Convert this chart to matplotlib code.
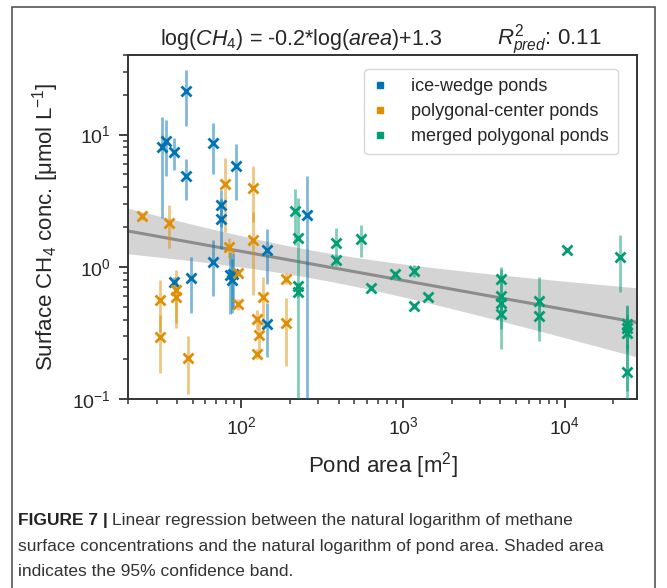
import numpy as np
import matplotlib
matplotlib.use("Agg")
import matplotlib.pyplot as plt
from matplotlib.lines import Line2D
from matplotlib.patches import Rectangle

plt.rcParams['font.family'] = ['Liberation Sans', 'DejaVu Sans']
plt.rcParams['mathtext.fontset'] = 'custom'
plt.rcParams['mathtext.rm'] = 'Liberation Sans'
plt.rcParams['mathtext.it'] = 'Liberation Sans:italic'
plt.rcParams['mathtext.bf'] = 'Liberation Sans:bold'

# pond area [m2], surface CH4 [umol/L], standard deviation
ice_area = [45.2, 32.1, 34.3, 38.6, 45.2, 67, 92.2, 74.5, 74.5, 38.5, 48.8, 67, 85, 89, 87, 144, 144, 254]
ice_ch4 = [21.2, 8.0, 8.9, 7.45, 4.9, 8.6, 5.84, 2.92, 2.32, 0.77, 0.82, 1.10, 0.87, 0.88, 0.80, 1.35, 0.37, 2.49]
ice_sd = [9.6, 5.65, 4.0, 2.0, 1.7, 3.6, 2.66, 0.9, 0.95, 0.07, 0.37, 0.5, 0.43, 0.4, 0.35, 0.6, 0.16, 2.4]

poly_area = [24.2, 35.8, 39.7, 39.7, 31.3, 31.3, 46.5, 78.8, 84.4, 94.8, 94.8, 118.7, 118.7, 135.5, 125, 129, 125, 189, 189]
poly_ch4 = [2.42, 2.16, 0.667, 0.594, 0.561, 0.297, 0.204, 4.25, 1.42, 0.908, 0.523, 3.97, 1.61, 0.588, 0.404, 0.305, 0.22, 0.818, 0.378]
poly_sd = [0.15, 0.76, 0.29, 0.25, 0.24, 0.14, 0.095, 2.4, 0.25, 0.06, 0.05, 1.8, 1.0, 0.25, 0.07, 0.08, 0.02, 0.08, 0.2]

merged_area = [215, 223, 223, 223, 386, 386, 547, 630, 897, 1170, 1170, 1430, 4020, 4020, 4020, 4020,
               6970, 6970, 10300, 22000, 24300, 24300, 24300, 24300]
merged_ch4 = [2.67, 1.67, 0.716, 0.648, 1.53, 1.12, 1.62, 0.695, 0.88, 0.933, 0.508, 0.594, 0.818, 0.60, 0.53, 0.438,
              0.554, 0.427, 1.35, 1.19, 0.368, 0.343, 0.315, 0.16]
merged_sd = [1.2, 1.63, 0.05, 0.05, 0.45, 0.1, 0.44, 0.03, 0.06, 0.1, 0.03, 0.03, 0.18, 0.36, 0.1, 0.1,
             0.28, 0.1, 0.05, 0.54, 0.14, 0.1, 0.2, 0.1]

groups = [
    ("ice-wedge ponds", ice_area, ice_ch4, ice_sd, '#0173b2'),
    ("polygonal-center ponds", poly_area, poly_ch4, poly_sd, '#de8f05'),
    ("merged polygonal ponds", merged_area, merged_ch4, merged_sd, '#029e73'),
]

fig = plt.figure(figsize=(6.67, 5.88), dpi=100)
ax = fig.add_axes([0.1924, 0.3209, 0.7626, 0.5856])

# regression in log space with 95% confidence band
lx = np.log(np.concatenate([ice_area, poly_area, merged_area]))
ly = np.log(np.concatenate([ice_ch4, poly_ch4, merged_ch4]))
n = len(lx)
slope, icpt = np.polyfit(lx, ly, 1)
resid = ly - (slope * lx + icpt)
s = np.sqrt(np.sum(resid ** 2) / (n - 2))
sxx = np.sum((lx - lx.mean()) ** 2)
gx = np.linspace(np.log(20), np.log(28000), 200)
gy = slope * gx + icpt
half = 1.99 * s * np.sqrt(1.0 / n + (gx - lx.mean()) ** 2 / sxx)

ax.fill_between(np.exp(gx), np.exp(gy - half), np.exp(gy + half), color='#d4d4d4', lw=0, zorder=1)
ax.plot(np.exp(gx), np.exp(gy), color='#8c8c8c', lw=2.2, zorder=2)

for name, a, c, sd, col in groups:
    ax.errorbar(a, c, yerr=sd, fmt='none', ecolor=col, alpha=0.5, elinewidth=2, zorder=3)
    ax.plot(a, c, 'x', color=col, ms=7.5, mew=2, zorder=4)

ax.set_xscale('log')
ax.set_yscale('log')
ax.set_xlim(20, 28000)
ax.set_ylim(0.1, 40)

for sp in ax.spines.values():
    sp.set_color('#333333')
    sp.set_linewidth(1.4)
ax.tick_params(which='major', length=6.5, width=1.3, pad=6, color='#333333', labelsize=14, labelcolor='#262626')
ax.tick_params(which='minor', length=3.5, width=1.1, color='#333333')

ax.set_xlabel(r'Pond area [m$^2$]', fontsize=16, color='#262626', labelpad=8)
ax.set_ylabel(r'Surface CH$_4$ conc. [$\mathrm{\mu}$mol L$^{-1}$]', fontsize=16, color='#262626', labelpad=8)
ax.text(0.062, 1.03, r'log($CH_4$) = -0.2*log($area$)+1.3', transform=ax.transAxes,
        fontsize=15.5, color='#262626', va='baseline', ha='left')
ax.text(0.725, 1.03, r'$R^2_{pred}$: 0.11', transform=ax.transAxes,
        fontsize=16, color='#262626', va='baseline', ha='left')

handles = [Line2D([], [], marker='s', ls='none', color=g[4], ms=5) for g in groups]
leg = ax.legend(handles, [g[0] for g in groups], loc='upper right', fontsize=13, frameon=True,
                handlelength=0.8, handletextpad=1.3, borderpad=0.5, labelspacing=0.45,
                bbox_to_anchor=(0.98, 0.985))
leg.get_frame().set_edgecolor('#cccccc')
for t in leg.get_texts():
    t.set_color('#262626')

# outer frame around figure and caption
fig.patches.append(Rectangle((12 / 667, -0.05), 643 / 667, 1.038, transform=fig.transFigure,
                             fill=False, edgecolor='#555555', lw=1.2))

cap_font = ['Liberation Sans Narrow', 'Liberation Sans']
t1 = fig.text(18 / 667, 1 - 521 / 588, 'FIGURE 7 |', fontsize=12.5, fontweight='bold', family=cap_font,
              color='#222222', va='center')
fig.canvas.draw()
bb = t1.get_window_extent()
fig.text(bb.x1 / fig.bbox.width + 4 / 667, 1 - 521 / 588,
         'Linear regression between the natural logarithm of methane', fontsize=12.5, family=cap_font,
         color='#333333', va='center')
fig.text(18 / 667, 1 - 546 / 588,
         'surface concentrations and the natural logarithm of pond area. Shaded area', fontsize=12.5,
         family=cap_font, color='#333333', va='center')
fig.text(18 / 667, 1 - 571 / 588, 'indicates the 95% confidence band.', fontsize=12.5, family=cap_font,
         color='#333333', va='center')

fig.savefig('out.png', dpi=100)
